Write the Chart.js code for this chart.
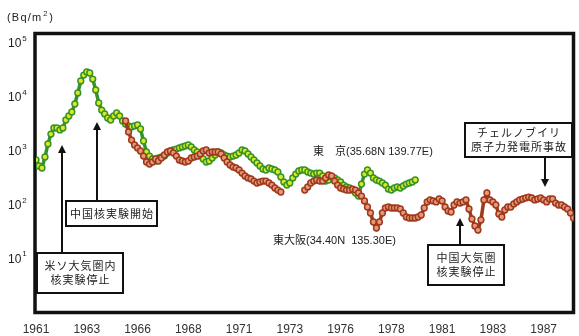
<!DOCTYPE html>
<html>
<head>
<meta charset="utf-8">
<script src="https://cdn.jsdelivr.net/npm/chart.js@4.4.1/dist/chart.umd.min.js"></script>
<style>
  html, body { margin: 0; padding: 0; background: #fff; }
  #wrap { width: 579px; height: 336px; }
</style>
</head>
<body>
<div id="wrap"><canvas id="c" width="579" height="336"></canvas></div>
<script>
// Monthly Cs deposition (Bq/m²), sample index along the x axis
const tickLabels = ['1961', '1963', '1966', '1968', '1971', '1973', '1976', '1978', '1981', '1983', '1987'];
const samplesPerTick = 17;
const lastSample = 180;

// 東京 — samples 0 … 127
const tokyo = [
  669, 517, 475, 760, 1330, 2030, 2630, 2630, 2420, 2630,
  3710, 4400, 5220, 7350, 11800, 19700, 25400, 28900, 27700, 21400,
  13400, 7670, 5680, 4790, 4040, 3710, 4400, 5000, 4400, 3550,
  3120, 2870, 2750, 2870, 2990, 2520, 1510, 942, 793, 698,
  641, 728, 760, 793, 903, 983, 1030, 1070, 1120, 1170,
  1220, 1270, 1170, 1030, 942, 793, 698, 614, 641, 728,
  828, 942, 903, 828, 793, 760, 793, 828, 903, 1030,
  983, 865, 760, 669, 588, 517, 455, 436, 475, 455,
  436, 400, 323, 261, 229, 250, 310, 367, 418, 436,
  436, 400, 383, 367, 383, 383, 337, 272, 284, 323,
  310, 284, 261, 229, 211, 202, 185, 163, 143, 239,
  367, 436, 383, 310, 284, 272, 250, 229, 193, 185,
  202, 211, 202, 220, 239, 250, 261, 284
];

// 東大阪 — samples 30 … 180 (null = no measurement)
const osakaStart = 30;
const osaka = [
  3550, 2220, 1570, 1270, 1120, 983, 793, 614, 563, 614,
  698, 641, 728, 828, 942, 983, 903, 793, 669, 641,
  614, 641, 728, 760, 793, 865, 983, 1030, 903, 942,
  942, 942, 865, 728, 614, 540, 496, 475, 436, 383,
  337, 310, 297, 272, 250, 261, 272, 272, 250, 229,
  202, 185, 170, null, null, null, null, null, null, null,
  185, 211, 250, 272, 284, 272, 272, 310, 352, 337,
  272, 229, 202, 193, 185, 185, 193, 185, 163, 143,
  116, 89.4, 69.2, 47.1, 36.4, 47.1, 69.2, 85.7, 89.4, 85.7,
  85.7, 85.7, 82.1, 69.2, 58.3, 55.9, 55.9, 55.9, 58.3, 63.5,
  85.7, 111, 121, 116, 111, 126, 116, 89.4, 75.4, 72.2,
  97.4, 111, 106, 111, 121, 82.1, 53.5, 39.7, 33.4, 51.3,
  121, 163, 121, 111, 97.4, 66.3, 58.3, 78.7, 89.4, 89.4,
  102, 111, 121, 126, 132, 137, 132, 121, 126, 132,
  121, 111, 126, 126, 106, 97.4, 97.4, 89.4, 82.1, 69.2,
  55.9
];

const decadeExponents = [1, 2, 3, 4, 5];

// Event markers: sample index and value at the arrow tip
const events = [
  { lines: ['米ソ大気圏内', '核実験停止'], x: 8.65, tip: 1270, box: [37, 253, 123, 293], dir: 'up' },
  { lines: ['中国核実験開始'], x: 20.3, tip: 3400, box: [66, 201, 157, 226], dir: 'up' },
  { lines: ['チェルノブイリ', '原子力発電所事故'], x: 170.3, tip: 211, box: [465, 123, 572, 157], dir: 'down' },
  { lines: ['中国大気圏', '核実験停止'], x: 142.1, tip: 55.9, box: [428, 245, 504, 285], dir: 'up' }
];

const seriesLabels = [
  { text: '東　京(35.68N 139.77E)', x: 313, y: 152 },
  { text: '東大阪(34.40N  135.30E)', x: 273, y: 241 }
];

const jpFont = '"Liberation Sans", "Noto Sans CJK JP", sans-serif';

const framePlugin = {
  id: 'frame',
  beforeDatasetsDraw(chart) {
    const { ctx, chartArea: a } = chart;
    ctx.save();
    ctx.strokeStyle = '#111';
    ctx.lineWidth = 3.5;
    ctx.strokeRect(a.left - 1, a.top + 0.5, a.right - a.left + 1, a.bottom - a.top);
    ctx.restore();
  }
};

const axisTextPlugin = {
  id: 'axisText',
  afterDraw(chart) {
    const { ctx } = chart;
    const y = chart.scales.y;
    ctx.save();
    ctx.fillStyle = '#222';
    ctx.textBaseline = 'middle';
    ctx.textAlign = 'left';
    decadeExponents.forEach(e => {
      const py = y.getPixelForValue(Math.pow(10, e));
      ctx.font = '12px ' + jpFont;
      ctx.fillText('10', 8, py + 1);
      const w = ctx.measureText('10').width;
      ctx.font = '8px ' + jpFont;
      ctx.fillText(String(e), 8 + w + 1, py - 4);
    });
    // unit label
    ctx.font = '11px ' + jpFont;
    ctx.letterSpacing = '1.2px';
    ctx.fillText('(Bq/m', 7, 18);
    let w = ctx.measureText('(Bq/m').width;
    ctx.font = '7.5px ' + jpFont;
    ctx.fillText('2', 7 + w + 1, 14);
    ctx.font = '11px ' + jpFont;
    ctx.fillText(')', 7 + w + 7, 18);
    ctx.restore();
  }
};

const eventPlugin = {
  id: 'events',
  afterDatasetsDraw(chart) {
    const { ctx } = chart;
    const xs = chart.scales.x, ys = chart.scales.y;
    ctx.save();
    events.forEach(ev => {
      const [x1, y1, x2, y2] = ev.box;
      ctx.fillStyle = '#fff';
      ctx.fillRect(x1, y1, x2 - x1, y2 - y1);
      ctx.strokeStyle = '#111';
      ctx.lineWidth = 2;
      ctx.strokeRect(x1, y1, x2 - x1, y2 - y1);
      ctx.fillStyle = '#222';
      ctx.font = '11px "Noto Sans CJK JP", sans-serif';
      ctx.letterSpacing = '1px';
      ctx.textAlign = 'center';
      ctx.textBaseline = 'middle';
      const cx = (x1 + x2) / 2, cy = (y1 + y2) / 2;
      const n = ev.lines.length;
      ev.lines.forEach((t, i) => ctx.fillText(t, cx + 0.5, cy + (i - (n - 1) / 2) * 14));
      // arrow
      const ax = Math.round(xs.getPixelForValue(ev.x));
      const tipY = ys.getPixelForValue(ev.tip);
      const tailY = ev.dir === 'up' ? y1 : y2;
      const s = ev.dir === 'up' ? 1 : -1;
      ctx.strokeStyle = '#111';
      ctx.lineWidth = 2;
      ctx.beginPath();
      ctx.moveTo(ax, tailY);
      ctx.lineTo(ax, tipY + s * 6);
      ctx.stroke();
      ctx.fillStyle = '#111';
      ctx.beginPath();
      ctx.moveTo(ax, tipY);
      ctx.lineTo(ax - 4, tipY + s * 8);
      ctx.lineTo(ax + 4, tipY + s * 8);
      ctx.closePath();
      ctx.fill();
    });
    ctx.letterSpacing = '0px';
    ctx.font = '11px ' + jpFont;
    ctx.textAlign = 'left';
    ctx.textBaseline = 'middle';
    ctx.fillStyle = '#222';
    seriesLabels.forEach(l => ctx.fillText(l.text, l.x, l.y));
    ctx.restore();
  }
};

new Chart(document.getElementById('c'), {
  type: 'line',
  data: {
    datasets: [
      {
        label: '東大阪',
        data: osaka.map((v, i) => ({ x: osakaStart + i, y: v })),
        borderColor: '#a0381b',
        borderWidth: 3.5,
        pointRadius: 2.9,
        pointBorderWidth: 1.5,
        pointBackgroundColor: '#e39a7c',
        pointBorderColor: '#a0381b',
        spanGaps: false,
        tension: 0,
        order: 0
      },
      {
        label: '東京',
        data: tokyo.map((v, i) => ({ x: i, y: v })),
        borderColor: '#36922a',
        borderWidth: 3.5,
        pointRadius: 2.9,
        pointBorderWidth: 1.5,
        pointBackgroundColor: '#dde81e',
        pointBorderColor: '#36922a',
        tension: 0,
        order: 1
      }
    ]
  },
  options: {
    responsive: false,
    animation: false,
    devicePixelRatio: 1,
    layout: { padding: { top: 33, right: 2, left: 0, bottom: 0 } },
    plugins: { legend: { display: false }, tooltip: { enabled: false } },
    scales: {
      x: {
        type: 'linear',
        min: 0,
        max: lastSample,
        grid: { display: false, drawTicks: false },
        border: { display: false },
        afterBuildTicks: axis => {
          axis.ticks = tickLabels.map((_, i) => ({ value: i * samplesPerTick }));
        },
        afterFit: s => { s.height = 24; },
        ticks: {
          autoSkip: false,
          maxRotation: 0,
          padding: 10,
          color: '#333',
          font: { size: 12, family: '"Liberation Sans", sans-serif' },
          callback: v => tickLabels[Math.round(v / samplesPerTick)]
        }
      },
      y: {
        type: 'logarithmic',
        min: 1,
        max: 153500,
        grid: { display: false, drawTicks: false },
        border: { display: false },
        ticks: { display: false },
        afterFit: s => { s.width = 36; }
      }
    }
  },
  plugins: [framePlugin, axisTextPlugin, eventPlugin]
});
</script>
</body>
</html>
